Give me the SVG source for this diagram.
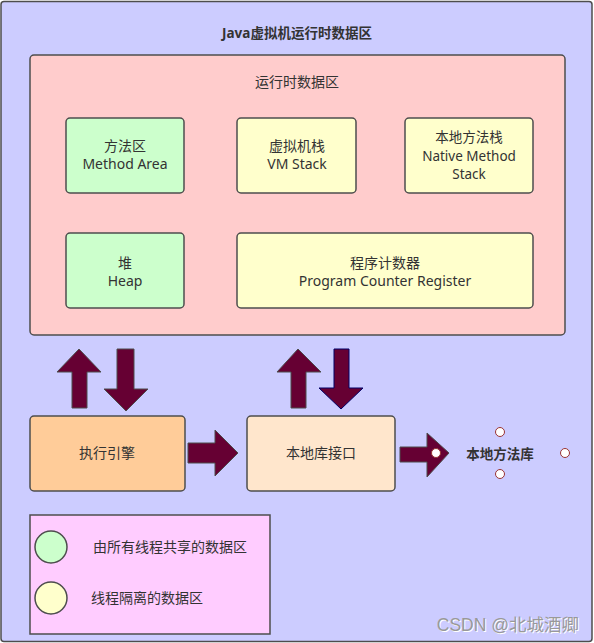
<svg xmlns="http://www.w3.org/2000/svg" width="594" height="643" viewBox="0 0 594 643">
<defs>
<style>
.box{stroke:#4d4d4d;stroke-width:1.5}
.t{font-family:"Noto Sans","Noto Sans CJK SC",sans-serif;font-size:14px;fill:#333;text-anchor:middle}
.b{font-weight:bold;font-size:13.5px}
.arrow{fill:#660033;stroke:#4d4d4d;stroke-width:1}
.dot{fill:#fff;stroke:#993333;stroke-width:1}
.wm{font-family:"Liberation Sans","Noto Sans CJK SC",sans-serif;font-size:17.5px;text-anchor:end}
</style>
</defs>
<g id="jvm">
<rect class="box" x="1" y="1.5" width="591" height="640" rx="3" fill="#ccccff"/>
<text class="t b" x="297" y="38">Java虚拟机运行时数据区</text>
</g>
<g id="runtime">
<rect class="box" x="30" y="55" width="535" height="280" rx="4" fill="#ffcccc"/>
<text class="t" x="297" y="87">运行时数据区</text>
</g>
<g id="method-area">
<rect class="box" x="66" y="118" width="118" height="75" rx="4" fill="#ccffcc"/>
<text class="t" x="125" y="151">方法区</text>
<text class="t" x="125" y="169">Method Area</text>
</g>
<g id="vm-stack">
<rect class="box" x="237" y="118" width="119" height="75" rx="4" fill="#ffffcc"/>
<text class="t" x="297" y="151">虚拟机栈</text>
<text class="t" x="297" y="169">VM Stack</text>
</g>
<g id="native-stack">
<rect class="box" x="405" y="118" width="128" height="75" rx="4" fill="#ffffcc"/>
<text class="t" x="469" y="142" style="font-size:13.5px">本地方法栈</text>
<text class="t" x="469" y="160.5" style="font-size:13.5px">Native Method</text>
<text class="t" x="469" y="178.5" style="font-size:13.5px">Stack</text>
</g>
<g id="heap">
<rect class="box" x="66" y="233" width="118" height="75" rx="4" fill="#ccffcc"/>
<text class="t" x="125" y="268">堆</text>
<text class="t" x="125" y="286">Heap</text>
</g>
<g id="pc-register">
<rect class="box" x="237" y="233" width="296" height="75" rx="4" fill="#ffffcc"/>
<text class="t" x="385" y="268">程序计数器</text>
<text class="t" x="385" y="286">Program Counter Register</text>
</g>
<g id="engine">
<rect class="box" x="30" y="416" width="155" height="75" rx="4" fill="#ffcc99"/>
<text class="t" x="107" y="458">执行引擎</text>
</g>
<g id="native-interface">
<rect class="box" x="247" y="416" width="148" height="75" rx="4" fill="#ffe6cc"/>
<text class="t" x="321" y="458">本地库接口</text>
</g>
<g id="native-library">
<text class="t b" x="500" y="459">本地方法库</text>
<circle class="dot" cx="500" cy="432" r="4.5"/>
<circle class="dot" cx="500" cy="474" r="4.5"/>
<circle class="dot" cx="565" cy="453" r="4.5"/>
</g>
<g id="connectors">
<polygon class="arrow" points="79,349 101,372 87,372 87,408 72,408 72,372 57,372"/>
<polygon class="arrow" points="117,349 134,349 134,389 148,389 126,411 104,389 117,389"/>
<polygon class="arrow" points="298,349 321,372 306,372 306,408 291,408 291,372 277,372"/>
<polygon class="arrow" style="stroke:#000066" points="334,349 349,349 349,388 363,388 341,409 319,388 334,388"/>
<polygon class="arrow" points="188,443 215,443 215,430 238,453 215,476 215,463 188,463"/>
<polygon class="arrow" points="400,447 427,447 427,433 449,453 427,477 427,462 400,462"/>
<circle class="dot" cx="436" cy="453" r="4.5"/>
</g>
<g id="legend">
<rect class="box" x="30" y="515" width="240" height="119" fill="#ffccff"/>
<circle class="box" cx="51" cy="547" r="16" fill="#ccffcc"/>
<circle class="box" cx="51" cy="598" r="16" fill="#ffffcc"/>
<text class="t" x="93" y="552" style="text-anchor:start">由所有线程共享的数据区</text>
<text class="t" x="91" y="603" style="text-anchor:start">线程隔离的数据区</text>
</g>
<g id="watermark">
<text class="wm" x="580" y="632" fill="#fff">CSDN @北城酒卿</text>
<text class="wm" x="579" y="631" fill="#999">CSDN @北城酒卿</text>
</g>
</svg>
